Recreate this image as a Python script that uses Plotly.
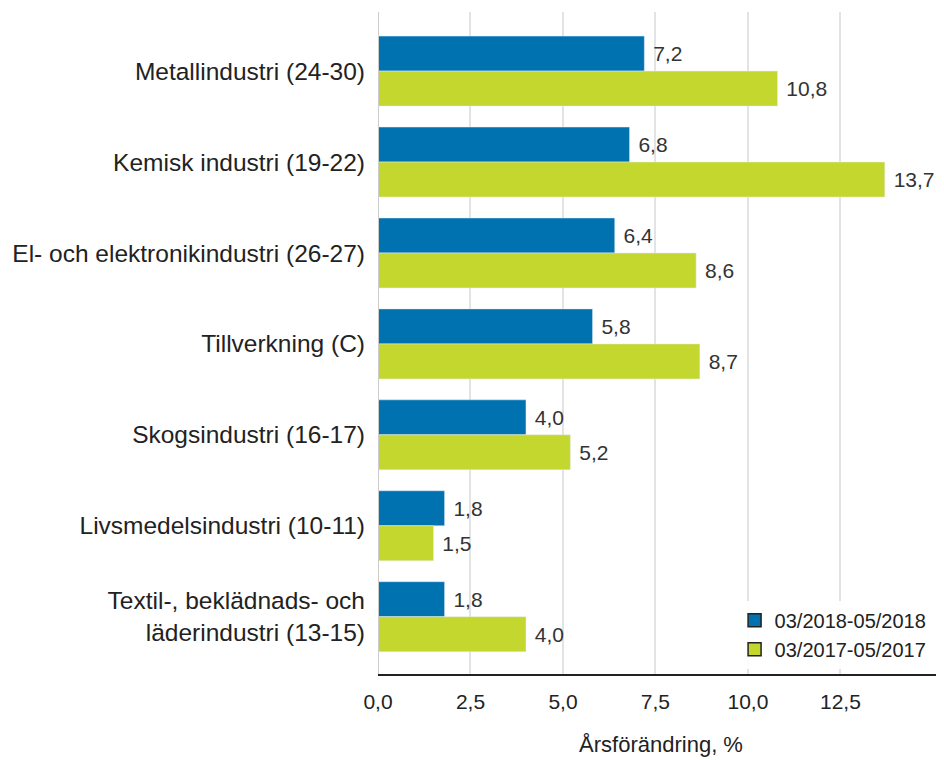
import plotly.graph_objects as go

# Data
categories = [
    "Metallindustri (24-30)",
    "Kemisk industri (19-22)",
    "El- och elektronikindustri (26-27)",
    "Tillverkning (C)",
    "Skogsindustri (16-17)",
    "Livsmedelsindustri (10-11)",
    "Textil-, beklädnads- och<br>läderindustri (13-15)",
]
series_2018 = [7.2, 6.8, 6.4, 5.8, 4.0, 1.8, 1.8]
series_2017 = [10.8, 13.7, 8.6, 8.7, 5.2, 1.5, 4.0]
name_2018 = "03/2018-05/2018"
name_2017 = "03/2017-05/2017"
x_ticks = [0, 2.5, 5, 7.5, 10, 12.5]

blue = "#0072B0"
green = "#C3D72F"
font = "Liberation Sans, Arial, sans-serif"

fig = go.Figure()
for vals, name, col in [(series_2018, name_2018, blue), (series_2017, name_2017, green)]:
    fig.add_trace(go.Bar(
        y=categories, x=vals, name=name, orientation="h",
        marker=dict(color=col), showlegend=False,
        texttemplate=" %{x:.1f}", textposition="outside", cliponaxis=False,
        textfont=dict(color="#333333", size=21),
    ))
    # legend entry with a dark outlined square
    fig.add_trace(go.Scatter(
        x=[None], y=[None], mode="markers", name=name,
        marker=dict(symbol="square", size=13, color=col,
                    line=dict(color="#222222", width=1.5)),
    ))

# page body has an 8px margin, so the figure is 8px smaller on each axis
fig.update_layout(
    width=936, height=752,
    margin=dict(l=370, r=0, t=4, b=86),
    barmode="group", bargap=0.23, bargroupgap=0,
    separators=", ",
    plot_bgcolor="white", paper_bgcolor="white",
    font=dict(family=font, size=22, color="#222222"),
    legend=dict(
        x=0.63, xanchor="left", y=0.008, yanchor="bottom",
        bgcolor="rgba(255,255,255,0.9)", font=dict(size=20),
        traceorder="normal", itemwidth=30, tracegroupgap=0,
    ),
    xaxis=dict(
        range=[0, 15.3], tickvals=x_ticks,
        tickformat=".1f", showgrid=True, gridcolor="#e3e3e3", gridwidth=2,
        zeroline=False, showline=True, linecolor="#222222", linewidth=2,
        ticks="", ticklabelstandoff=8, tickfont=dict(size=21),
        title=dict(text="Årsförändring, %", standoff=24, font=dict(size=22)),
    ),
    yaxis=dict(
        categoryorder="array", categoryarray=categories,
        range=[6.63, -0.65], showgrid=False, ticks="", ticklabelstandoff=12,
        showline=False, tickfont=dict(size=24.5),
    ),
)

fig.add_shape(type="line", xref="x", yref="paper", x0=0, x1=0, y0=0, y1=1,
              line=dict(color="#cccccc", width=2))

fig.write_html("out.html")
